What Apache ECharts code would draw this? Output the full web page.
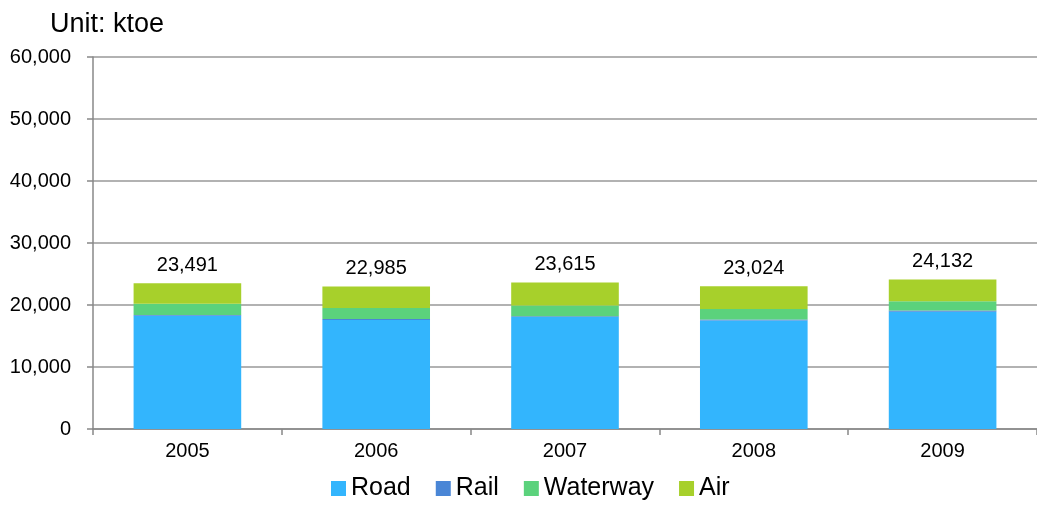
<!DOCTYPE html>
<html>
<head>
<meta charset="utf-8">
<script src="https://cdn.jsdelivr.net/npm/echarts@6/dist/echarts.min.js"></script>
<style>
  html, body { margin: 0; padding: 0; background: #fff; }
  #chart { width: 1037px; height: 507px; }
</style>
</head>
<body>
<div id="chart"></div>
<script>
// Final energy consumption in transport, by mode (ktoe)
const years = ['2005', '2006', '2007', '2008', '2009'];
const road = [18250, 17600, 18050, 17500, 18900];
const rail = [150, 150, 150, 150, 200];
const waterway = [1800, 1750, 1700, 1700, 1500];
const totals = [23491, 22985, 23615, 23024, 24132];
// Air fills the remainder up to the stated yearly total
const air = totals.map((t, i) => t - road[i] - rail[i] - waterway[i]);

const FONT = '"Liberation Sans", Arial, sans-serif';
const fmt = v => v.toLocaleString('en-US');

const chart = echarts.init(document.getElementById('chart'));

function bar(name, data, color, extra) {
  return Object.assign({
    name: name,
    type: 'bar',
    stack: 'total',
    data: data,
    barWidth: '57%',
    itemStyle: { color: color },
    emphasis: { disabled: true }
  }, extra || {});
}

chart.setOption({
  animation: false,
  textStyle: { fontFamily: FONT },
  title: {
    text: 'Unit: ktoe',
    left: 45,
    top: 6,
    textStyle: { fontFamily: FONT, fontSize: 27, fontWeight: 'normal', color: '#000' }
  },
  legend: {
    bottom: 1,
    left: 326,
    itemWidth: 15,
    itemHeight: 15,
    itemGap: 25,
    icon: 'rect',
    textStyle: { fontFamily: FONT, fontSize: 25, color: '#000', padding: [0, 0, 0, 0] },
    data: ['Road', 'Rail', 'Waterway', 'Air']
  },
  grid: { left: 93, right: -2, top: 57, bottom: 78, containLabel: false },
  xAxis: {
    type: 'category',
    data: years,
    axisLine: { lineStyle: { color: '#888', width: 1.5 } },
    axisTick: { show: true, length: 6, lineStyle: { color: '#888', width: 1.5 } },
    axisLabel: { fontFamily: FONT, fontSize: 20, color: '#000', margin: 12 }
  },
  yAxis: {
    type: 'value',
    min: 0,
    max: 60000,
    interval: 10000,
    axisLine: { show: true, lineStyle: { color: '#888', width: 1.5 } },
    axisTick: { show: true, length: 6, lineStyle: { color: '#888', width: 1.5 } },
    axisLabel: { fontFamily: FONT, fontSize: 20, color: '#000', margin: 22, formatter: v => fmt(v) },
    splitLine: { show: true, lineStyle: { color: '#999', width: 1.5 } }
  },
  series: [
    bar('Road', road, '#33b5fd'),
    bar('Rail', rail, '#4a86d6'),
    bar('Waterway', waterway, '#5bd27c'),
    bar('Air', air, '#a7d02b', {
      label: {
        show: true,
        position: 'top',
        distance: 8,
        fontFamily: FONT,
        fontSize: 20,
        color: '#000',
        formatter: p => fmt(totals[p.dataIndex])
      }
    })
  ]
});
</script>
</body>
</html>
